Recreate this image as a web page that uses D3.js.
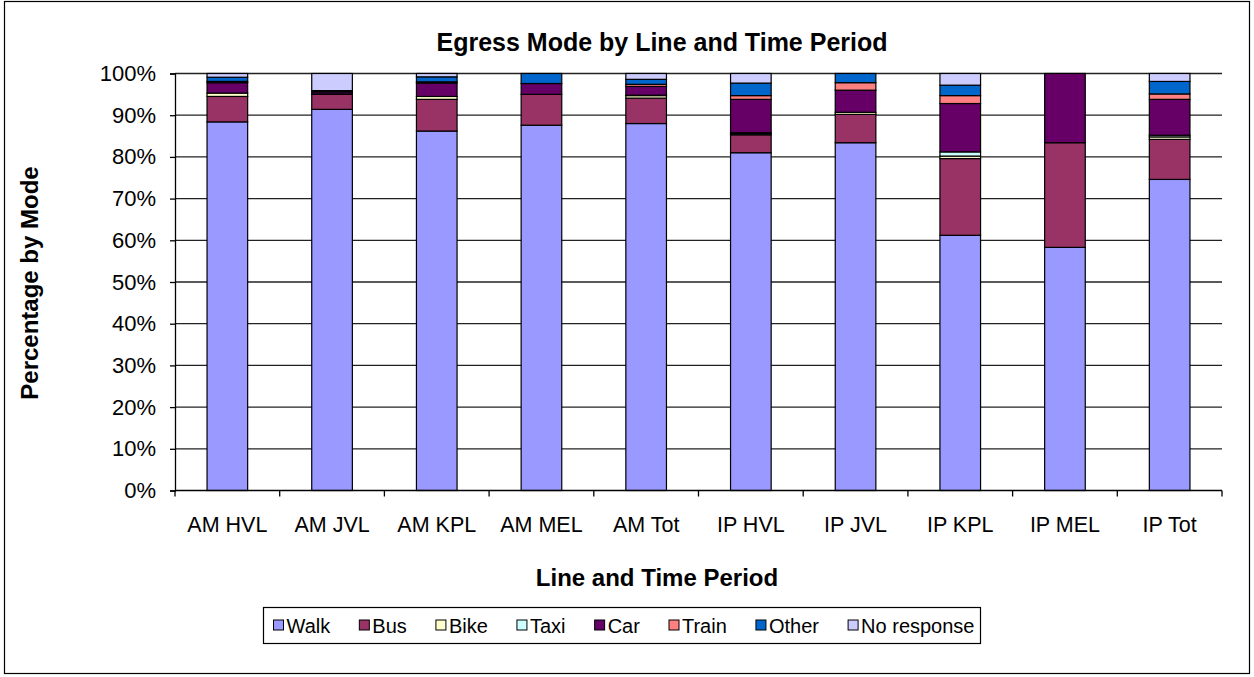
<!DOCTYPE html>
<html>
<head>
<meta charset="utf-8">
<script src="https://cdn.jsdelivr.net/npm/d3@7/dist/d3.min.js"></script>
<style>
  html, body { margin: 0; padding: 0; background: #fff; }
  svg { display: block; font-family: "Liberation Sans", Arial, sans-serif; }
</style>
</head>
<body>
<svg id="chart" width="1254" height="677"></svg>
<script>
// Categories (line + time period)
const categories = ["AM HVL", "AM JVL", "AM KPL", "AM MEL", "AM Tot",
                    "IP HVL", "IP JVL", "IP KPL", "IP MEL", "IP Tot"];

// Egress mode shares (%) per category, stacked bottom to top
const walk       = [88.4, 91.4, 86.2, 87.6, 88.0, 81.0, 83.4, 61.2, 58.3, 74.6];
const bus        = [ 6.1,  3.6,  7.6,  7.4,  6.1,  4.3,  6.8, 18.4, 25.1,  9.6];
const bike       = [ 0.8,  0.1,  0.7,  0.0,  0.6,  0.3,  0.5,  0.6,  0.0,  0.6];
const taxi       = [ 0.0,  0.0,  0.0,  0.0,  0.1,  0.2,  0.0,  1.0,  0.0,  0.4];
const car        = [ 2.5,  0.5,  3.2,  2.6,  2.1,  8.0,  5.3, 11.6, 16.6,  8.6];
const train      = [ 0.3,  0.0,  0.3,  0.0,  0.5,  0.9,  1.8,  1.9,  0.0,  1.3];
const other      = [ 1.0,  0.3,  1.2,  2.4,  1.2,  3.0,  2.2,  2.5,  0.0,  3.0];
const noResponse = [ 0.9,  4.1,  0.8,  0.0,  1.4,  2.3,  0.0,  2.8,  0.0,  1.9];

const modes  = ["Walk", "Bus", "Bike", "Taxi", "Car", "Train", "Other", "No response"];
const series = [walk, bus, bike, taxi, car, train, other, noResponse];
const colors = ["#9999FF", "#993366", "#FFFFCC", "#CCFFFF", "#660066", "#FF8080", "#0066CC", "#CCCCFF"];

const yTicks = [0, 10, 20, 30, 40, 50, 60, 70, 80, 90, 100];

// Build rows for the stack layout
const rows = categories.map((c, i) => {
  const r = { category: c };
  modes.forEach((m, k) => { r[m] = series[k][i]; });
  return r;
});

const svg = d3.select("#chart");
const plot = { left: 175, right: 1222, top: 73.5, bottom: 490.5 };

// Outer frame
svg.append("rect")
  .attr("x", 4.5).attr("y", 1.5).attr("width", 1245).attr("height", 672)
  .attr("fill", "#fff").attr("stroke", "#000").attr("stroke-width", 1.2);

const x = d3.scaleBand()
  .domain(categories)
  .range([plot.left, plot.right])
  .paddingInner(0.612)
  .paddingOuter(0.306);

const y = d3.scaleLinear().domain([0, 100]).range([plot.bottom, plot.top]);

// Horizontal gridlines
svg.append("g")
  .selectAll("line")
  .data(yTicks.filter(t => t > 0))
  .join("line")
  .attr("x1", plot.left).attr("x2", plot.right)
  .attr("y1", d => y(d)).attr("y2", d => y(d))
  .attr("stroke", "#222").attr("stroke-width", 1.3);

// Stacked bars
const stack = d3.stack().keys(modes)(rows);
svg.append("g")
  .selectAll("g")
  .data(stack)
  .join("g")
  .attr("fill", (d, i) => colors[i])
  .selectAll("rect")
  .data(d => d.filter(s => s[1] - s[0] > 0))
  .join("rect")
  .attr("x", d => x(d.data.category))
  .attr("width", x.bandwidth())
  .attr("y", d => y(d[1]))
  .attr("height", d => y(d[0]) - y(d[1]))
  .attr("stroke", "#000")
  .attr("stroke-width", 1.2);

// Y axis
const yAxis = d3.axisLeft(y)
  .tickValues(yTicks)
  .tickSize(5)
  .tickPadding(14)
  .tickFormat(d => d + "%");
const gy = svg.append("g")
  .attr("transform", `translate(${plot.left},0)`)
  .call(yAxis);
gy.select(".domain").attr("stroke", "#000").attr("stroke-width", 1.3);
gy.selectAll(".tick line").attr("stroke", "#000").attr("stroke-width", 1.3);
gy.selectAll(".tick text")
  .attr("font-size", 22).attr("fill", "#000")
  .attr("font-family", "Liberation Sans, Arial, sans-serif");

// X axis: baseline with ticks between categories
const gx = svg.append("g");
gx.append("line")
  .attr("x1", plot.left).attr("x2", plot.right)
  .attr("y1", plot.bottom).attr("y2", plot.bottom)
  .attr("stroke", "#000").attr("stroke-width", 1.3);
const step = x.step();
gx.selectAll("line.tk")
  .data(d3.range(categories.length + 1))
  .join("line")
  .attr("class", "tk")
  .attr("x1", i => plot.left + i * step).attr("x2", i => plot.left + i * step)
  .attr("y1", plot.bottom).attr("y2", plot.bottom + 6)
  .attr("stroke", "#000").attr("stroke-width", 1.3);
gx.selectAll("text")
  .data(categories)
  .join("text")
  .attr("x", d => x(d) + x.bandwidth() / 2)
  .attr("y", 532)
  .attr("text-anchor", "middle")
  .attr("font-size", 21.5)
  .text(d => d);

// Titles
svg.append("text")
  .attr("x", 662).attr("y", 51)
  .attr("text-anchor", "middle")
  .attr("font-size", 25).attr("font-weight", "bold")
  .text("Egress Mode by Line and Time Period");

svg.append("text")
  .attr("x", 657).attr("y", 586)
  .attr("text-anchor", "middle")
  .attr("font-size", 24).attr("font-weight", "bold")
  .text("Line and Time Period");

svg.append("text")
  .attr("transform", "translate(38,283) rotate(-90)")
  .attr("text-anchor", "middle")
  .attr("font-size", 24).attr("font-weight", "bold")
  .text("Percentage by Mode");

// Legend: items spread evenly across the box
const legendBox = { x: 263.5, y: 607.5, w: 717, h: 36 };
const legend = svg.append("g");
legend.append("rect")
  .attr("x", legendBox.x).attr("y", legendBox.y)
  .attr("width", legendBox.w).attr("height", legendBox.h)
  .attr("fill", "#fff").attr("stroke", "#000").attr("stroke-width", 1.2);
const items = modes.map((m, i) => {
  const g = legend.append("g");
  g.append("rect")
    .attr("y", 620).attr("width", 10).attr("height", 10)
    .attr("fill", colors[i]).attr("stroke", "#000").attr("stroke-width", 1);
  const t = g.append("text")
    .attr("y", 632.5)
    .attr("font-size", 20)
    .text(m);
  return { g, w: 13 + t.node().getComputedTextLength() };
});
const padL = 10, padR = 6;
const totalW = d3.sum(items, d => d.w);
const gap = (legendBox.w - padL - padR - totalW) / (items.length - 1);
let lx = legendBox.x + padL;
items.forEach(it => {
  it.g.select("rect").attr("x", lx);
  it.g.select("text").attr("x", lx + 13);
  lx += it.w + gap;
});
</script>
</body>
</html>
